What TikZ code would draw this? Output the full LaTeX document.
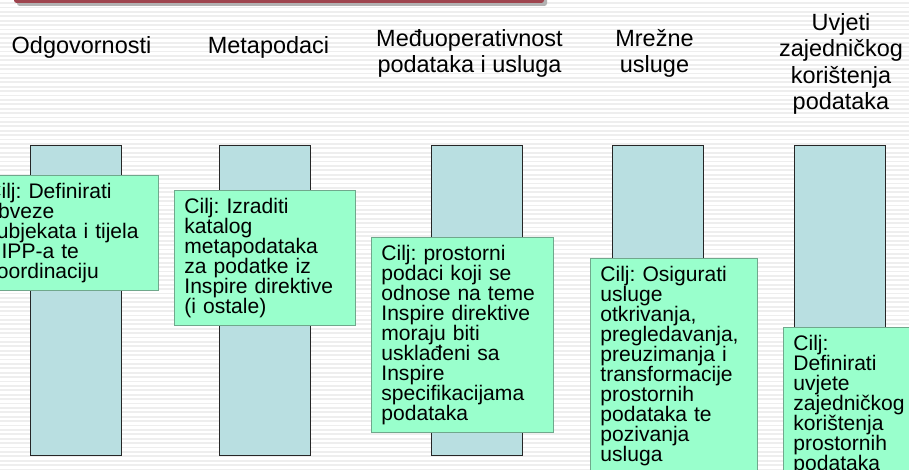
\documentclass[tikz,border=0pt]{standalone}
\usepackage{fontspec}
\setmainfont{Liberation Sans}
\frenchspacing

\definecolor{pillarblue}{RGB}{185,223,225}
\definecolor{goalgreen}{RGB}{153,255,204}
\definecolor{goalborder}{RGB}{112,168,140}
\definecolor{barred}{RGB}{158,68,78}
\definecolor{stripe}{RGB}{238,238,238}

\tikzset{
  pillar/.style={draw=black!85, fill=pillarblue, line width=0.6pt, anchor=north,
    inner sep=0pt, minimum width=68.25pt, minimum height=232.5pt},
  goal/.style={draw=goalborder, fill=goalgreen, line width=0.6pt, anchor=north west,
    align=left, inner xsep=7.5pt, inner ysep=5.6pt,
    font=\fontsize{15.8pt}{15pt}\selectfont},
  heading/.style={anchor=north, align=center, inner sep=0pt,
    font=\fontsize{17.6pt}{19.9pt}\selectfont}
}

\begin{document}
\begin{tikzpicture}[x=0.75pt,y=-0.75pt]
        \useasboundingbox (0,0) rectangle (909,470);

        % Striped slide background
        \fill[white] (0,0) rectangle (909,470);
        \foreach \y in {0,4.4,...,470}
            \fill[stripe] (0,\y+2.2) rectangle (909,\y+4);

        % Title bar at the top
        \fill[black!30, rounded corners=2pt] (17,-10) rectangle (547,6);
        \fill[barred, rounded corners=2pt] (14,-10) rectangle (544,3);

        % Draw the pillars
        \node[pillar] (p1) at (75.5,145) {};
        \node[pillar] (p2) at (264.5,145) {};
        \node[pillar] (p3) at (476.5,145) {};
        \node[pillar] (p4) at (657.5,145) {};
        \node[pillar] (p5) at (840,145) {};

        % Goals placed over the pillars
        \node[goal, text width=121.5pt] (g1) at (-24,175)
            {Cilj: Definirati\\obveze\\subjekata i tijela\\NIPP-a te\\koordinaciju};
        \node[goal, text width=120.75pt] (g2) at (174,190)
            {Cilj: Izraditi\\katalog\\metapodataka\\za podatke iz\\Inspire direktive\\(i ostale)};
        \node[goal, text width=121.5pt] (g3) at (371,237)
            {Cilj: prostorni\\podaci koji se\\odnose na teme\\Inspire direktive\\moraju biti\\usklađeni sa\\Inspire\\specifikacijama\\podataka};
        \node[goal, text width=110.25pt] (g4) at (590,258)
            {Cilj: Osigurati\\usluge\\otkrivanja,\\pregledavanja,\\preuzimanja i\\transformacije\\prostornih\\podataka te\\pozivanja\\usluga};
        \node[goal, text width=88.5pt] (g5) at (783,327)
            {Cilj:\\Definirati\\uvjete\\zajedničkog\\korištenja\\prostornih\\podataka};

        % Pillar headings
        \node[heading] (h1) at (81.5,36) {Odgovornosti};
        \node[heading] (h2) at (268.5,36) {Metapodaci};
        \node[heading] (h3) at (469.5,29) {Međuoperativnost\\podataka i usluga};
        \node[heading] (h4) at (654.5,29) {Mrežne\\usluge};
        \node[heading] (h5) at (841,13) {Uvjeti\\zajedničkog\\korištenja\\podataka};

    \end{tikzpicture}
\end{document}
